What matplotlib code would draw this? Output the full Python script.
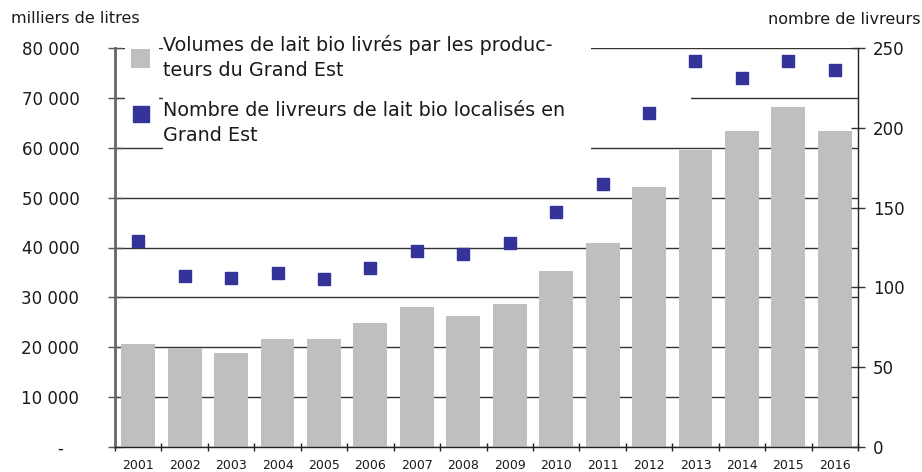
import numpy as np
import matplotlib
matplotlib.use("Agg")
import matplotlib.pyplot as plt
from matplotlib.patches import Patch, Rectangle
from matplotlib.lines import Line2D
from matplotlib.legend_handler import HandlerLine2D
from matplotlib.ticker import FuncFormatter, FixedLocator

plt.rcParams['font.family'] = ['DejaVu Sans']

# data
years = ['2001', '2002', '2003', '2004', '2005', '2006', '2007', '2008',
         '2009', '2010', '2011', '2012', '2013', '2014', '2015', '2016']
volumes = [20600, 19900, 18800, 21600, 21600, 24850, 28050, 26250,
           28650, 35250, 40900, 52100, 59500, 63300, 68150, 63300]   # milliers de litres
livreurs = [129, 107, 106, 109, 105, 112, 123, 121,
            128, 147, 165, 209, 242, 231, 242, 236]

left_ticks = [0, 10000, 20000, 30000, 40000, 50000, 60000, 70000, 80000]
right_ticks = [0, 50, 100, 150, 200, 250]

label_vol = "Volumes de lait bio livrés par les produc-\nteurs du Grand Est"
label_liv = "Nombre de livreurs de lait bio localisés en\nGrand Est"

bar_col = '#bfbfbf'
sq_col = '#333399'
txt_col = '#1a1a1a'

W, H = 922, 472
fig = plt.figure(figsize=(W / 100, H / 100), dpi=100)
ax = fig.add_axes([115 / W, 1 - 447 / H, (858 - 115) / W, (447 - 48) / H])

x = np.arange(len(years))
ax.bar(x, volumes, width=0.73, color=bar_col, zorder=2)
ax.set_xlim(-0.5, len(years) - 0.5)
ax.set_ylim(0, 80000)

ax.set_axisbelow(True)
ax.yaxis.grid(True, color='#333333', lw=1)
ax.set_yticks(left_ticks)

def fmt_left(v, pos):
    if v == 0:
        return '-   '
    return '{:,.0f}'.format(v).replace(',', ' ')

ax.yaxis.set_major_formatter(FuncFormatter(fmt_left))
ax.tick_params(axis='y', direction='inout', length=9.4, width=1, color='#555555',
               labelsize=12, pad=21, labelcolor=txt_col)

ax.set_xticks(x)
ax.set_xticklabels(years)
ax.xaxis.set_minor_locator(FixedLocator(np.arange(-0.5, len(years), 1.0)))
ax.tick_params(axis='x', which='major', length=0, labelsize=9, pad=8.5, labelcolor=txt_col)
ax.tick_params(axis='x', which='minor', direction='inout', length=6, width=1, color='#222222')

ax.spines['top'].set_visible(False)
ax.spines['right'].set_visible(False)
ax.spines['left'].set_color('#666666')
ax.spines['left'].set_linewidth(2)
ax.spines['bottom'].set_color('#222222')
ax.spines['bottom'].set_linewidth(1)

ax2 = ax.twinx()
ax2.plot(x, livreurs, linestyle='none', marker='s', markersize=8.6,
         color=sq_col, markeredgecolor=sq_col, zorder=3)
ax2.set_ylim(0, 250)
ax2.set_yticks(right_ticks)
ax2.tick_params(axis='y', direction='inout', length=9.4, width=1, color='#333333',
                labelsize=12, pad=6, labelcolor=txt_col)
for s in ['top', 'left', 'bottom']:
    ax2.spines[s].set_visible(False)
ax2.spines['right'].set_color('#222222')
ax2.spines['right'].set_linewidth(1)

# white boxes behind the legend texts, hiding the gridlines like the original
def px_rect(x0, y0, x1, y1):
    return Rectangle((x0 / W, 1 - y1 / H), (x1 - x0) / W, (y1 - y0) / H,
                     transform=fig.transFigure, facecolor='white',
                     edgecolor='none', zorder=1)

for r in [px_rect(163, 38, 591, 152), px_rect(125, 40, 159, 101),
          px_rect(591, 95, 691, 101)]:
    ax2.add_artist(r)


class RaisedMarker(HandlerLine2D):
    # the square sits next to the first text line, not in the middle
    def create_artists(self, legend, orig_handle, xdescent, ydescent,
                       width, height, fontsize, trans):
        arts = super().create_artists(legend, orig_handle, xdescent, ydescent,
                                      width, height, fontsize, trans)
        for a in arts:
            a.set_ydata(np.asarray(a.get_ydata()) + 6.5)
        return arts


sq_handle = Line2D([], [], linestyle='none', marker='s', markersize=12, color=sq_col)
handles = [Patch(facecolor=bar_col, edgecolor='none'), sq_handle]
leg = ax2.legend(handles, [label_vol, label_liv], loc='upper left',
                 bbox_to_anchor=(131 / W, 1 - 35 / H), bbox_transform=fig.transFigure,
                 fontsize=13.8, frameon=False, handlelength=1.0,
                 handleheight=1.15, handletextpad=0.68, labelspacing=1.1,
                 borderpad=0, borderaxespad=0,
                 handler_map={sq_handle: RaisedMarker(numpoints=1)})
leg.set_zorder(5)
for t in leg.get_texts():
    t.set_color(txt_col)
    t.set_linespacing(1.4)

fig.text(11 / W, 1 - 18.5 / H, 'milliers de litres', fontsize=11.5, color=txt_col,
         ha='left', va='center')
fig.text(920 / W, 1 - 19 / H, 'nombre de livreurs', fontsize=11.5, color=txt_col,
         ha='right', va='center')

fig.savefig('out.png', dpi=100)
